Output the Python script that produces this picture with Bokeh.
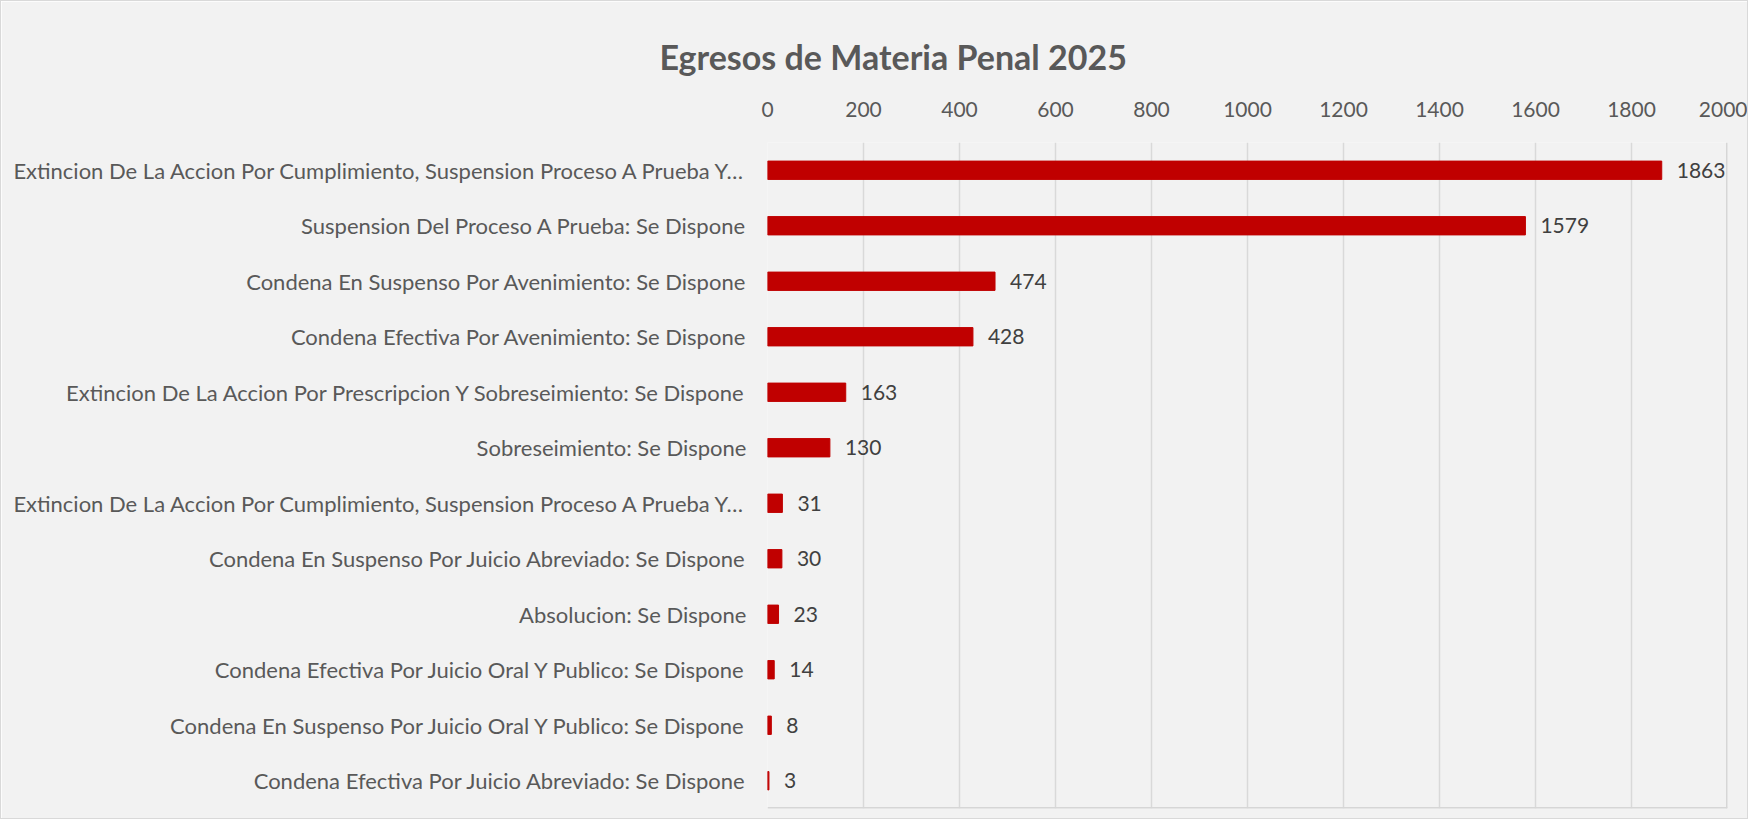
from bokeh.plotting import figure
from bokeh.models import FactorRange, Range1d, ColumnDataSource, Span, LabelSet
from bokeh.core.properties import value
from bokeh.embed import file_html
from bokeh.resources import INLINE

categories = [
    "Extincion De La Accion Por Cumplimiento, Suspension Proceso A Prueba Y…",
    "Suspension Del Proceso A Prueba: Se Dispone",
    "Condena En Suspenso Por Avenimiento: Se Dispone",
    "Condena Efectiva Por Avenimiento: Se Dispone",
    "Extincion De La Accion Por Prescripcion Y Sobreseimiento: Se Dispone",
    "Sobreseimiento: Se Dispone",
    "Extincion De La Accion Por Cumplimiento, Suspension Proceso A Prueba Y…",
    "Condena En Suspenso Por Juicio Abreviado: Se Dispone",
    "Absolucion: Se Dispone",
    "Condena Efectiva Por Juicio Oral Y Publico: Se Dispone",
    "Condena En Suspenso Por Juicio Oral Y Publico: Se Dispone",
    "Condena Efectiva Por Juicio Abreviado: Se Dispone",
]
values = [1863, 1579, 474, 428, 163, 130, 31, 30, 23, 14, 8, 3]
x_ticks = [0, 200, 400, 600, 800, 1000, 1200, 1400, 1600, 1800, 2000]

# factors must be unique: duplicate labels get an invisible zero-width space
keys = []
for c in categories:
    k = c
    while k in keys:
        k += "\u200b"
    keys.append(k)

src = ColumnDataSource(dict(key=keys, val=values, txt=[str(v) for v in values]))

FONT = "Lato"
p = figure(
    width=1748, height=819,
    y_range=FactorRange(factors=list(reversed(keys)), range_padding=0),
    x_range=Range1d(0, 2000),
    x_axis_location="above",
    output_backend="svg", toolbar_location=None,
    min_border_left=766, min_border_right=22, min_border_top=141, min_border_bottom=12,
    background_fill_color="#f2f2f2", border_fill_color="#f2f2f2",
    title="Egresos de Materia Penal 2025",
    styles={"border": "1px solid #d9d9d9"},
)
p.outline_line_color = None

p.title.align = "left"
p.title.offset = -108
p.title.text_font = FONT
p.title.text_font_style = "bold"
p.title.text_font_size = "34px"
p.title.text_color = "#595959"
p.title.standoff = 44

p.hbar(y="key", right="val", left=0, height=0.33, source=src,
       fill_color="#c00000", line_color="#c00000")

labels = LabelSet(x="val", y="key", text="txt", source=src, x_offset=15,
                  text_baseline="middle", text_font=value(FONT), text_font_size="21px",
                  text_color="#404040")
p.add_layout(labels)

p.xaxis.ticker = x_ticks
p.xaxis.axis_line_color = None
p.xaxis.major_tick_line_color = None
p.xaxis.minor_tick_line_color = None
p.xaxis.major_label_text_font = FONT
p.xaxis.major_label_text_font_size = "21px"
p.xaxis.major_label_text_color = "#595959"
p.xaxis.major_label_standoff = 20

p.yaxis.axis_line_color = None
p.yaxis.major_tick_line_color = None
p.yaxis.major_label_text_font = FONT
p.yaxis.major_label_text_font_size = "22px"
p.yaxis.major_label_text_color = "#595959"
p.yaxis.major_label_standoff = 15

p.ygrid.grid_line_color = None
p.xgrid.grid_line_color = "#d9d9d9"
p.xgrid.grid_line_width = 1.5

p.add_layout(Span(location=2000, dimension="height", line_color="#d6d6d6", line_width=3))
p.add_layout(Span(location=0, dimension="width", line_color="#d6d6d6", line_width=3))

open("out.html", "w").write(file_html(p, INLINE))
